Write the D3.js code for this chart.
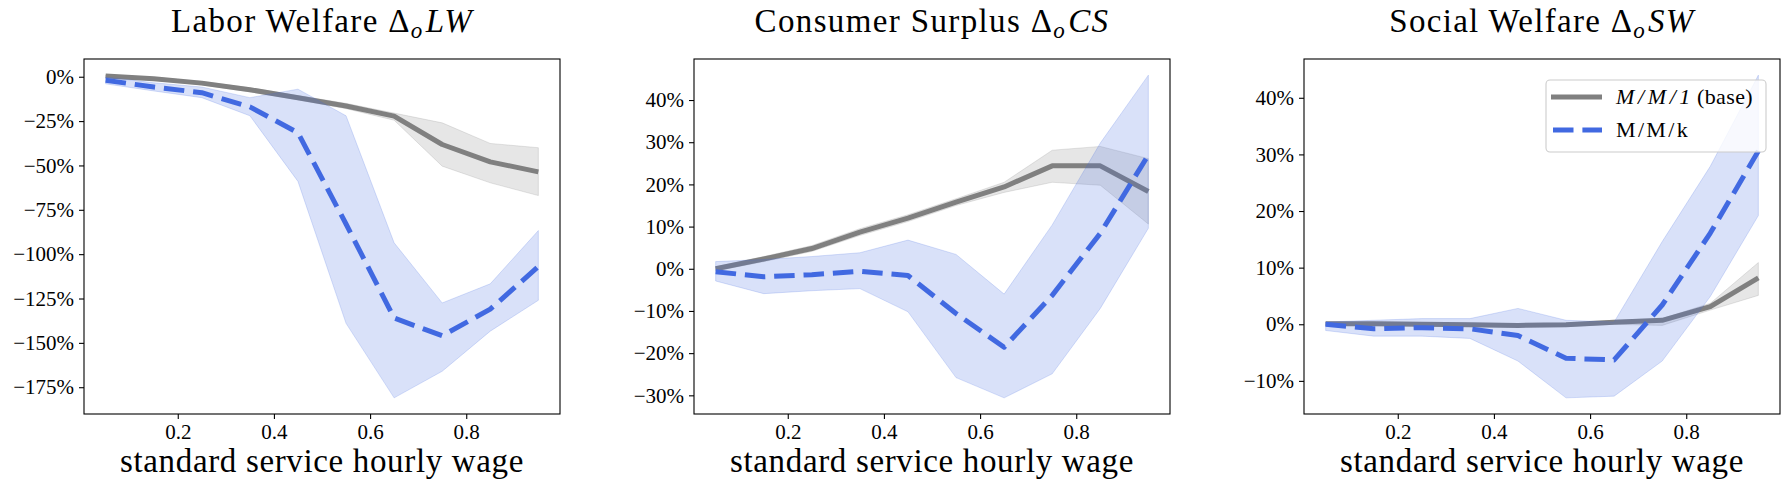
<!DOCTYPE html>
<html>
<head>
<meta charset="utf-8">
<script src="https://cdn.jsdelivr.net/npm/d3@7"></script>
<style>
  html, body { margin: 0; padding: 0; background: #fff; }
  svg { display: block; }
  text { font-family: "Liberation Serif", "DejaVu Serif", serif; fill: #000; }
</style>
</head>
<body>
<svg id="chart" width="1790" height="488"></svg>
<script>
// ---------- data ----------
const xValues = [0.05, 0.15, 0.25, 0.35, 0.45, 0.55, 0.65, 0.75, 0.85, 0.95];
const xTicks = [0.2, 0.4, 0.6, 0.8];

// Labor welfare
const lwBaseMean = [0.4, -1.1, -3.6, -7.3, -11.8, -16.5, -22.2, -38.2, -48.0, -53.6];
const lwBaseLow  = [-0.4, -1.9, -4.6, -8.5, -13.0, -18.0, -24.5, -50.4, -59.8, -67.0];
const lwBaseHigh = [0.9, -0.4, -2.7, -6.2, -10.6, -15.0, -20.5, -26.0, -37.6, -40.0];
const lwKMean = [-2.0, -5.8, -9.0, -17.0, -31.6, -83.0, -136.0, -146.0, -131.0, -107.0];
const lwKLow  = [-4.0, -8.0, -11.8, -22.0, -59.0, -139.0, -181.0, -166.0, -143.4, -126.0];
const lwKHigh = [-0.2, -3.4, -5.8, -11.8, -7.0, -22.0, -93.6, -127.5, -116.7, -86.7];
const lwTicks = [0, -25, -50, -75, -100, -125, -150, -175];

// Consumer surplus
const csBaseMean = [0.0, 2.3, 4.8, 8.7, 12.0, 15.8, 19.4, 24.4, 24.4, 18.3];
const csBaseLow  = [-0.5, 1.7, 4.1, 7.9, 11.2, 15.0, 18.1, 20.5, 19.8, 10.6];
const csBaseHigh = [0.5, 2.9, 5.5, 9.5, 12.8, 16.6, 20.5, 28.1, 29.0, 26.1];
const csKMean = [-0.7, -1.9, -1.4, -0.6, -1.6, -10.6, -18.6, -6.3, 8.4, 27.0];
const csKLow  = [-2.9, -5.9, -5.2, -4.7, -10.2, -25.8, -30.6, -24.9, -9.4, 9.6];
const csKHigh = [1.7, 2.2, 2.9, 3.8, 6.8, 3.4, -6.0, 10.4, 29.8, 45.9];
const csTicks = [-30, -20, -10, 0, 10, 20, 30, 40];

// Social welfare
const swBaseMean = [0.1, 0.1, 0.0, -0.1, -0.2, -0.1, 0.35, 0.7, 3.1, 8.2];
const swBaseLow  = [-0.2, -0.2, -0.3, -0.4, -0.5, -0.4, 0.0, -0.2, 2.5, 5.1];
const swBaseHigh = [0.4, 0.4, 0.3, 0.2, 0.1, 0.2, 0.7, 1.0, 3.7, 10.9];
const swKMean = [0.0, -0.8, -0.6, -0.8, -2.0, -6.0, -6.3, 3.4, 16.1, 30.6];
const swKLow  = [-1.1, -2.1, -2.1, -2.5, -6.5, -13.0, -12.7, -6.5, 4.9, 19.2];
const swKHigh = [0.4, 0.7, 1.0, 1.0, 2.8, 0.7, 0.4, 14.6, 27.9, 44.0];
const swTicks = [-10, 0, 10, 20, 30, 40];

const titleMain = ["Labor Welfare ", "Consumer Surplus ", "Social Welfare "];
const titleSym = ["LW", "CS", "SW"];
const xLabel = "standard service hourly wage";
const legendLabels = ["M/M/1", " (base)", "M/M/k"];

// ---------- layout ----------
const svg = d3.select("#chart");
svg.append("rect").attr("width", 1790).attr("height", 488).attr("fill", "#fff");

const GRAY = "#808080", BLUE = "#4169e1";
const plotTop = 59, plotBottom = 414, panelW = 476;
const lefts = [84, 694, 1304];
const LW_PX = 5;

const panels = [
  {base: [lwBaseMean, lwBaseLow, lwBaseHigh], k: [lwKMean, lwKLow, lwKHigh], ticks: lwTicks},
  {base: [csBaseMean, csBaseLow, csBaseHigh], k: [csKMean, csKLow, csKHigh], ticks: csTicks},
  {base: [swBaseMean, swBaseLow, swBaseHigh], k: [swKMean, swKLow, swKHigh], ticks: swTicks}
];

function spacingFor(node, target) {
  const w = node.getComputedTextLength();
  const n = (node.textContent || "").length;
  return n > 1 ? (target - w) / n : 0;
}
const fmtPct = v => (v < 0 ? "\u2212" + Math.abs(v) : String(v)) + "%";

const xLo = d3.min(xValues), xHi = d3.max(xValues);
const xPad = (xHi - xLo) * 0.05;

let titleScale = null;

panels.forEach((p, i) => {
  const left = lefts[i], right = left + panelW;
  const all = [...p.base.flat(), ...p.k.flat()];
  const yMin = d3.min(all), yMax = d3.max(all), yPad = (yMax - yMin) * 0.05;
  const x = d3.scaleLinear().domain([xLo - xPad, xHi + xPad]).range([left, right]);
  const y = d3.scaleLinear().domain([yMin - yPad, yMax + yPad]).range([plotBottom, plotTop]);

  const g = svg.append("g");
  const clipId = "clip" + i;
  svg.append("clipPath").attr("id", clipId).append("rect")
    .attr("x", left).attr("y", plotTop).attr("width", panelW).attr("height", plotBottom - plotTop);
  const plot = g.append("g").attr("clip-path", `url(#${clipId})`);

  const area = (lo, hi) => d3.area().x((d, j) => x(xValues[j])).y0((d, j) => y(lo[j])).y1((d, j) => y(hi[j]))(xValues);
  const line = vals => d3.line().x((d, j) => x(xValues[j])).y((d, j) => y(vals[j]))(xValues);

  plot.append("path").attr("d", area(p.base[1], p.base[2]))
    .attr("fill", GRAY).attr("fill-opacity", 0.2)
    .attr("stroke", GRAY).attr("stroke-opacity", 0.2).attr("stroke-width", 1);
  plot.append("path").attr("d", line(p.base[0]))
    .attr("fill", "none").attr("stroke", GRAY).attr("stroke-width", LW_PX)
    .attr("stroke-linejoin", "round");
  plot.append("path").attr("d", area(p.k[1], p.k[2]))
    .attr("fill", BLUE).attr("fill-opacity", 0.2)
    .attr("stroke", BLUE).attr("stroke-opacity", 0.2).attr("stroke-width", 1);
  plot.append("path").attr("d", line(p.k[0]))
    .attr("fill", "none").attr("stroke", BLUE).attr("stroke-width", LW_PX)
    .attr("stroke-dasharray", "20.5,8.9").attr("stroke-linejoin", "round");

  const yAxis = d3.axisLeft(y).tickValues(p.ticks).tickFormat(fmtPct).tickSize(5).tickPadding(5);
  const xAxis = d3.axisBottom(x).tickValues(xTicks).tickFormat(d3.format(".1f")).tickSize(5).tickPadding(5);
  const ya = g.append("g").attr("transform", `translate(${left},0)`).call(yAxis);
  const xa = g.append("g").attr("transform", `translate(0,${plotBottom})`).call(xAxis);
  [ya, xa].forEach(a => {
    a.select(".domain").remove();
    a.selectAll("line").attr("stroke", "#000").attr("stroke-width", 1.1);
    a.selectAll("text").attr("font-family", '"Liberation Serif", "DejaVu Serif", serif')
      .attr("font-size", 21).attr("fill", "#000");
  });

  g.append("rect").attr("x", left).attr("y", plotTop).attr("width", panelW).attr("height", plotBottom - plotTop)
    .attr("fill", "none").attr("stroke", "#000").attr("stroke-width", 1.1);

  // title
  const cx = left + panelW / 2;
  const t = g.append("text").attr("x", cx).attr("y", 32).attr("text-anchor", "middle").attr("font-size", 33);
  t.append("tspan").text(titleMain[i] + "\u0394");
  t.append("tspan").attr("font-style", "italic").attr("font-size", 23).attr("dy", 6).text("o");
  t.append("tspan").attr("font-style", "italic").attr("dy", -6).attr("dx", 2).text(titleSym[i]);
  const natural = t.node().getComputedTextLength();
  if (titleScale === null) titleScale = 300 / natural;
  t.attr("letter-spacing", spacingFor(t.node(), natural * titleScale).toFixed(3));

  // x label
  const xl = g.append("text").attr("x", cx).attr("y", 472).attr("text-anchor", "middle")
    .attr("font-size", 33).text(xLabel);
  xl.attr("letter-spacing", spacingFor(xl.node(), 404).toFixed(3));
});

// ---------- legend (panel 3) ----------
const lg = svg.append("g");
lg.append("rect").attr("x", 1546).attr("y", 80).attr("width", 220).attr("height", 72).attr("rx", 4)
  .attr("fill", "#fff").attr("fill-opacity", 0.8).attr("stroke", "#cccccc").attr("stroke-width", 1.1);
lg.append("line").attr("x1", 1551).attr("x2", 1602).attr("y1", 97).attr("y2", 97)
  .attr("stroke", GRAY).attr("stroke-width", LW_PX);
lg.append("line").attr("x1", 1553).attr("x2", 1602).attr("y1", 130).attr("y2", 130)
  .attr("stroke", BLUE).attr("stroke-width", LW_PX).attr("stroke-dasharray", "20.5,8.9");

const l1a = lg.append("text").attr("x", 1616).attr("y", 104).attr("font-size", 22)
  .attr("font-style", "italic").text(legendLabels[0]);
l1a.attr("letter-spacing", spacingFor(l1a.node(), 78).toFixed(3));
const l1b = lg.append("text").attr("x", 1697).attr("y", 104).attr("font-size", 22).text(legendLabels[1].trim());
l1b.attr("letter-spacing", spacingFor(l1b.node(), 56).toFixed(3));
const l2 = lg.append("text").attr("x", 1616).attr("y", 137).attr("font-size", 22).text(legendLabels[2]);
l2.attr("letter-spacing", spacingFor(l2.node(), 74).toFixed(3));
</script>
</body>
</html>
